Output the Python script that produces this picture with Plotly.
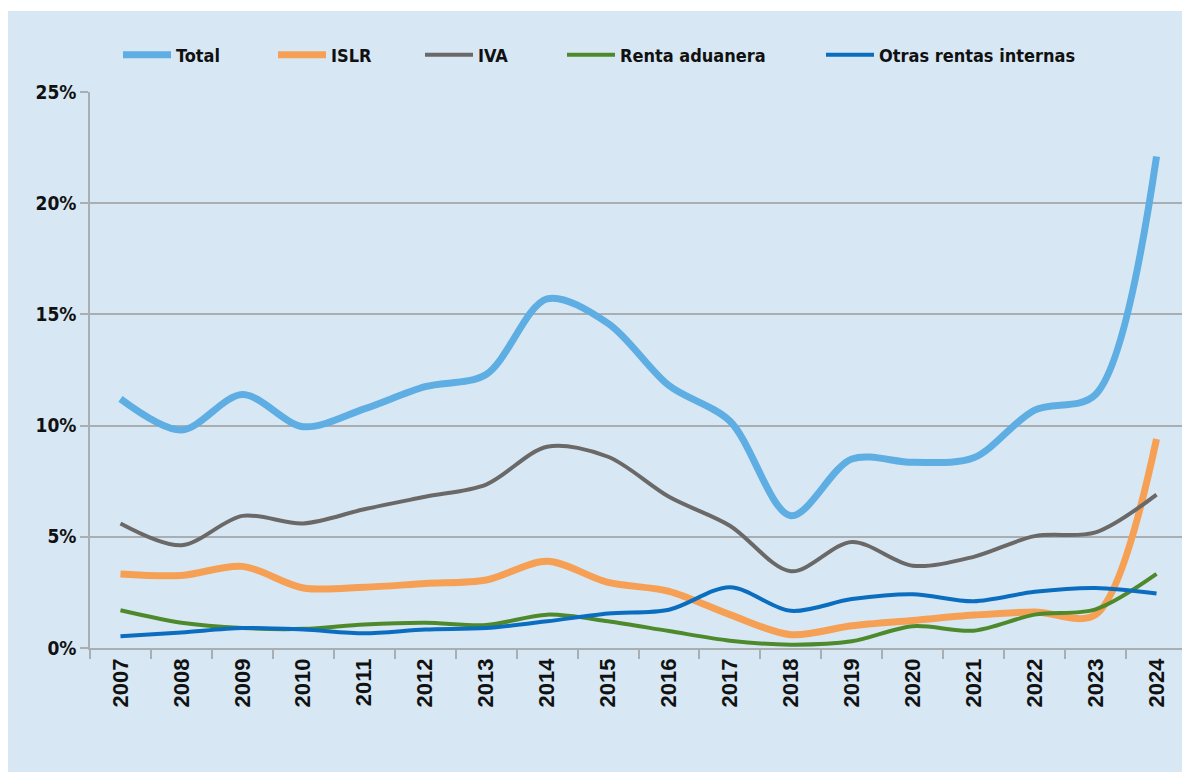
import plotly.graph_objects as go

years = [str(y) for y in range(2007, 2025)]
total = [11.2, 9.8, 11.4, 9.95, 10.75, 11.75, 12.3, 15.7, 14.6, 11.8, 10.2, 5.95, 8.5, 8.35, 8.55, 10.7, 11.4, 22.1]
islr = [3.33, 3.26, 3.67, 2.7, 2.73, 2.9, 3.06, 3.9, 2.95, 2.55, 1.5, 0.6, 1.0, 1.24, 1.48, 1.62, 1.5, 9.4]
iva = [5.6, 4.62, 5.94, 5.6, 6.24, 6.8, 7.35, 9.05, 8.6, 6.8, 5.5, 3.45, 4.77, 3.7, 4.1, 5.03, 5.2, 6.9]
aduanera = [1.7, 1.14, 0.9, 0.86, 1.06, 1.14, 1.03, 1.5, 1.2, 0.76, 0.33, 0.15, 0.3, 0.98, 0.78, 1.5, 1.74, 3.33]
otras = [0.53, 0.7, 0.9, 0.83, 0.66, 0.83, 0.9, 1.2, 1.55, 1.72, 2.73, 1.67, 2.2, 2.42, 2.1, 2.53, 2.7, 2.45]

series = [
    ("Total", total, "#5FAEE3", 7),
    ("ISLR", islr, "#F6A055", 7),
    ("IVA", iva, "#6B6868", 4),
    ("Renta aduanera", aduanera, "#4E8A2C", 4),
    ("Otras rentas internas", otras, "#0B6DBF", 4),
]
# page x where each legend line starts in the reference
legend_x_page = [123, 278, 425, 567, 826]

BG = "#D7E8F4"
GRID = "#A9AEB3"
FONT = "DejaVu Sans Condensed, DejaVu Sans, sans-serif"

# The page body adds an 8px white margin; figure is sized to fill the rest.
OFF = 8
W, H = 1190 - OFF, 772 - OFF
L, T = 90 - OFF, 92 - OFF
R = W - (1187 - OFF)
B = H - (648 - OFF)
pw, ph = W - L - R, H - T - B

fig = go.Figure()
legends = {}
for i, (name, vals, color, w) in enumerate(series):
    key = "legend" if i == 0 else f"legend{i + 1}"
    fig.add_trace(go.Scatter(
        x=years, y=vals, name=name, mode="lines",
        line=dict(color=color, width=w, shape="spline", smoothing=0.9),
        legend=key,
    ))
    fx = legend_x_page[i] - OFF - 5
    legends[key] = dict(
        orientation="h", x=(fx - L) / pw, xanchor="left",
        y=(H - B - (55 - OFF)) / ph, yanchor="middle",
        bgcolor="rgba(0,0,0,0)", borderwidth=0,
        font=dict(family=FONT, size=18, color="#111111", weight="bold"),
        itemwidth=48,
    )

fig.update_layout(
    width=W, height=H,
    margin=dict(l=L, r=R, t=T, b=B, pad=0),
    paper_bgcolor=BG, plot_bgcolor=BG,
    showlegend=True,
    xaxis=dict(
        type="category", tickangle=-90, range=[-0.5, len(years) - 0.5],
        tickfont=dict(family="Liberation Sans, Arial, sans-serif", size=22, color="#111111", weight="bold"),
        showline=True, linecolor=GRID, linewidth=1.5,
        ticks="outside", tickson="boundaries", ticklen=9, tickcolor=GRID, tickwidth=1.5,
        showgrid=False, zeroline=False,
    ),
    yaxis=dict(
        range=[0, 25], dtick=5, ticksuffix="%",
        tickfont=dict(family=FONT, size=19, color="#111111", weight="bold"),
        showline=True, linecolor=GRID, linewidth=1.5,
        ticks="outside", ticklen=8, tickcolor=GRID, tickwidth=1.5,
        showgrid=True, gridcolor=GRID, gridwidth=1.5,
        zeroline=False,
    ),
    shapes=[
        dict(type="rect", xref="paper", yref="paper", layer="below",
             x0=-L / pw - 0.01, x1=1 + R / pw + 0.01,
             y0=(H - B - (11 - OFF)) / ph, y1=(H - B) / ph + 0.01,
             fillcolor="white", line=dict(width=0)),
    ],
    **legends,
)

fig.write_html("out.html")
